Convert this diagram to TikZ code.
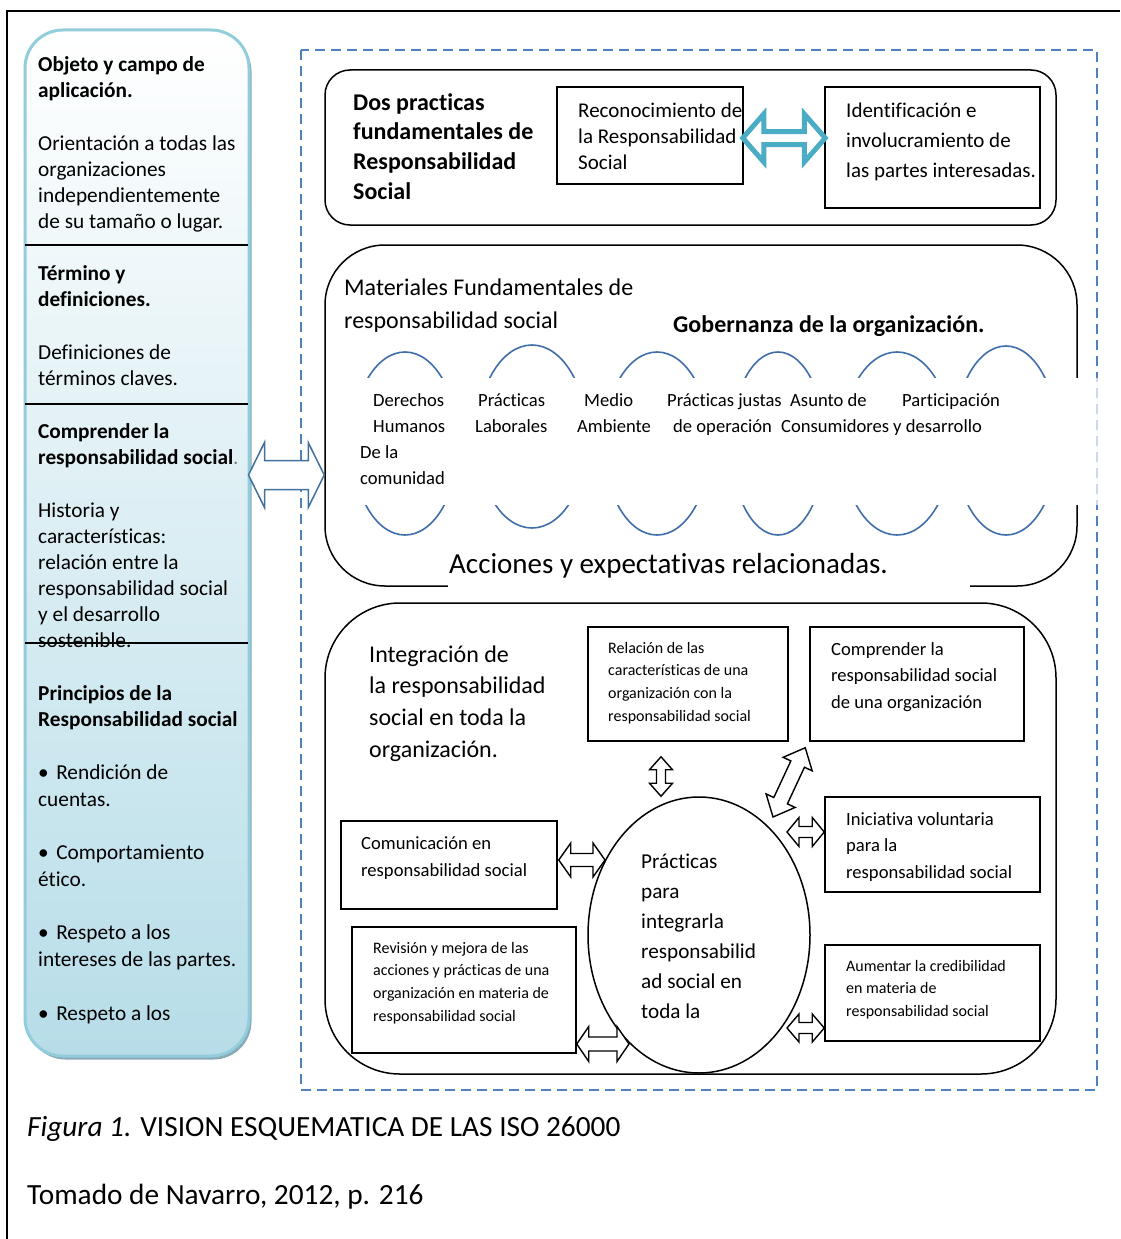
\documentclass[tikz,border=0pt]{standalone}
\usepackage{fontspec}
\setmainfont{Carlito}[Ligatures={NoCommon}]
\usetikzlibrary{calc,shadows,shapes.geometric}

\definecolor{dashblue}{RGB}{79,129,189}
\definecolor{arcblue}{RGB}{64,110,170}
\definecolor{tealarrow}{RGB}{75,172,198}
\definecolor{panelborder}{RGB}{146,205,220}
\definecolor{panelbottom}{RGB}{183,221,232}
\definecolor{arrowblue}{RGB}{65,113,156}
\definecolor{panelshade}{RGB}{125,160,175}

\newcommand\fs[2]{\fontsize{#1}{#2}\selectfont}
% name, x, y of first baseline, font, text
\newcommand\tb[5]{\node[anchor=north west, inner sep=0pt, align=left, font=#4] (#1) at (#2,#3-30) {\rule{0pt}{30pt}#5};}
% opts, from, to, head half width, shaft half width, head length
\newcommand\blockarrow[6]{%
 \draw[#1] (#2) -- ($(#2)!#6!(#3)!#4!90:(#3)$) -- ($(#2)!#6!(#3)!#5!90:(#3)$)
 -- ($(#3)!#6!(#2)!#5!-90:(#2)$) -- ($(#3)!#6!(#2)!#4!-90:(#2)$) -- (#3)
 -- ($(#3)!#6!(#2)!#4!90:(#2)$) -- ($(#3)!#6!(#2)!#5!90:(#2)$)
 -- ($(#2)!#6!(#3)!#5!-90:(#3)$) -- ($(#2)!#6!(#3)!#4!-90:(#3)$) -- cycle;}

\begin{document}
\begin{tikzpicture}[x=1pt,y=-1pt,
  box/.style={draw, line width=1.5pt, inner sep=0pt},
  barrow/.style={draw=black, line width=1.4pt, fill=white, line join=miter},
  arcs/.style={draw=arcblue, line width=1.6pt}]
\useasboundingbox (0,0) rectangle (1120,1239);
\fill[white] (0,0) rectangle (1120,1239);
% outer frame
\draw[line width=1.5pt] (7,1239) -- (7,11) -- (1120,11);
% dashed frame
\draw[dashblue, line width=2.4pt, dash pattern=on 10pt off 6pt] (301,50) rectangle (1097,1090);

% ===== left panel =====
\node[draw=panelborder, line width=3pt, rounded corners=38pt, top color=white, bottom color=panelbottom,
  minimum width=224pt, minimum height=1026pt, inner sep=0pt,
  drop shadow={shadow xshift=2.5pt, shadow yshift=-3.5pt, fill=panelshade, opacity=0.9}] (panel) at (137,543) {};
\draw[line width=1.5pt] (25,245) -- (248,245);
\draw[line width=1.5pt] (25,404) -- (248,404);

\tb{l1}{38}{71}{\fs{21.3}{26}\bfseries}{Objeto y campo de\\aplicación.}
\tb{l2}{38}{150}{\fs{21.3}{26}}{Orientación a todas las\\organizaciones\\independientemente\\de su tamaño o lugar.}
\tb{l3}{38}{280}{\fs{21.3}{26}\bfseries}{Término y\\definiciones.}
\tb{l4}{38}{359}{\fs{21.3}{26}}{Definiciones de\\términos claves.}
\tb{l5}{38}{438}{\fs{21.3}{26}\bfseries}{Comprender la\\responsabilidad social{\mdseries\color{gray}.}}
\tb{l6}{38}{517}{\fs{21.3}{26}}{Historia y\\características:\\relación entre la\\responsabilidad social\\y el desarrollo\\sostenible.}
\draw[line width=1.5pt] (25,643) -- (248,643);
\tb{l7}{38}{700}{\fs{21.3}{26}\bfseries}{Principios de la\\Responsabilidad social}
\tb{l8}{38}{779}{\fs{21.3}{27}}{•\hspace{0.35em}Rendición de\\cuentas.}
\tb{l9}{38}{859}{\fs{21.3}{27}}{•\hspace{0.35em}Comportamiento\\ético.}
\tb{l10}{38}{939}{\fs{21.3}{27}}{•\hspace{0.35em}Respeto a los\\intereses de las partes.}
\tb{l11}{38}{1020}{\fs{21.3}{27}}{•\hspace{0.35em}Respeto a los}

% ===== box 1 =====
\node[box, rounded corners=25pt, minimum width=731pt, minimum height=155pt] (b1) at (690.5,147.5) {};
\tb{t1}{353}{110}{\fs{24}{29.6}\bfseries}{Dos practicas\\fundamentales de\\Responsabilidad\\Social}
\tb{t2}{578}{117}{\fs{21}{26}}{Reconocimiento de\\la Responsabilidad\\Social}
\node[box, minimum width=186pt, minimum height=97pt] (recon) at (650,135.5) {};
\node[box, minimum width=215pt, minimum height=121pt] (ident) at (932.5,147.5) {};
\tb{t3}{846}{117}{\fs{21}{30}}{Identificación e\\involucramiento de\\las partes interesadas.}
\coordinate (ta) at ([xshift=-1pt,yshift=-2.5pt]recon.east);
\coordinate (tb) at ([xshift=1pt,yshift=9.5pt]ident.west);
\blockarrow{draw=tealarrow, line width=5pt, fill=white, line join=miter}{ta}{tb}{24pt}{6.5pt}{21pt}

% ===== box 2 =====
\node[box, rounded corners=60pt, minimum width=752pt, minimum height=341pt] (b2) at (701,415.5) {};
\draw[arcs] (405,443.5) ellipse [x radius=53, y radius=91.5];
\draw[arcs] (532,436.5) ellipse [x radius=55, y radius=91.5];
\draw[arcs] (657,443.5) ellipse [x radius=53, y radius=91.5];
\draw[arcs] (778,443.5) ellipse [x radius=47, y radius=91.5];
\draw[arcs] (897,443.5) ellipse [x radius=55, y radius=91.5];
\draw[arcs] (1006,440.5) ellipse [x radius=52, y radius=94.5];
\fill[white] (340,378) rectangle (1093,505);
\fill[white, opacity=0.7] (1093,378) rectangle (1102,505);
\fill[white] (448,545) rectangle (970,592);

\tb{m1}{344}{295}{\fs{24}{33}}{Materiales Fundamentales de\\responsabilidad social}
\node[anchor=base west, inner sep=0pt, font=\fs{24}{28}\bfseries] (gob) at (673,332) {Gobernanza de la organización.};
\node[anchor=base west, inner sep=0pt, font=\fs{18.6}{22}] (d1) at (373,406) {Derechos};
\node[anchor=base west, inner sep=0pt, font=\fs{18.6}{22}] (d2) at (373,432) {Humanos};
\node[anchor=base west, inner sep=0pt, font=\fs{18.6}{22}] (d3) at (360,458) {De la};
\node[anchor=base west, inner sep=0pt, font=\fs{18.6}{22}] (d4) at (360,484) {comunidad};
\node[anchor=base west, inner sep=0pt, font=\fs{18.6}{22}] (p1) at (478,406) {Prácticas};
\node[anchor=base west, inner sep=0pt, font=\fs{18.6}{22}] (p2) at (475,432) {Laborales};
\node[anchor=base west, inner sep=0pt, font=\fs{18.6}{22}] (ma1) at (584,406) {Medio};
\node[anchor=base west, inner sep=0pt, font=\fs{18.6}{22}] (ma2) at (577,432) {Ambiente};
\node[anchor=base west, inner sep=0pt, font=\fs{18.6}{22}] (pj1) at (667,406) {Prácticas justas};
\node[anchor=base west, inner sep=0pt, font=\fs{18.6}{22}] (pj2) at (673,432) {de operación};
\node[anchor=base west, inner sep=0pt, font=\fs{18.6}{22}] (ac1) at (790,406) {Asunto de};
\node[anchor=base west, inner sep=0pt, font=\fs{18.6}{22}] (ac2) at (781,432) {Consumidores};
\node[anchor=base west, inner sep=0pt, font=\fs{18.6}{22}] (pd1) at (902,406) {Participación};
\node[anchor=base west, inner sep=0pt, font=\fs{18.6}{22}] (pd2) at (893,432) {y desarrollo};
\node[anchor=base west, inner sep=0pt, font=\fs{29}{34}] (acc) at (449,573) {Acciones y expectativas relacionadas.};

% big blue arrow
\coordinate (ba) at ([xshift=-2pt,yshift=68pt]panel.east);
\coordinate (bb) at ([yshift=-59.5pt]b2.west);
\blockarrow{draw=arrowblue, line width=1.5pt, fill=white, line join=miter}{ba}{bb}{32.5pt}{14.5pt}{16pt}

% ===== box 3 =====
\node[box, rounded corners=75pt, minimum width=731pt, minimum height=471pt] (b3) at (690.5,838.5) {};
\tb{i1}{369}{662}{\fs{24}{31.7}}{Integración de\\la responsabilidad\\social en toda la\\organización.}
\node[box, minimum width=200pt, minimum height=114pt] (rel) at (688,684) {};
\tb{r1}{608}{653}{\fs{16}{22.7}}{Relación de las\\características de una\\organización con la\\responsabilidad social}
\node[box, minimum width=214pt, minimum height=114pt] (comp) at (917,684) {};
\tb{c1}{831}{655}{\fs{18.6}{26.5}}{Comprender la\\responsabilidad social\\de una organización}
\node[box, minimum width=215pt, minimum height=95pt] (inic) at (932.5,844.5) {};
\tb{in1}{846}{825}{\fs{18.6}{26.5}}{Iniciativa voluntaria\\para la\\responsabilidad social}
\node[box, minimum width=216pt, minimum height=88pt] (comu) at (449,865) {};
\tb{co1}{361}{849}{\fs{18.6}{27}}{Comunicación en\\responsabilidad social}
\node[box, minimum width=224pt, minimum height=126pt] (rev) at (464,990) {};
\tb{rv1}{373}{953}{\fs{16}{22.7}}{Revisión y mejora de las\\acciones y prácticas de una\\organización en materia de\\responsabilidad social}
\node[box, minimum width=215pt, minimum height=96pt] (aum) at (932.5,993) {};
\tb{au1}{846}{971}{\fs{16}{22.7}}{Aumentar la credibilidad\\en materia de\\responsabilidad social}
\node[draw, ellipse, line width=1.5pt, minimum width=222pt, minimum height=276pt, inner sep=0pt] (prac) at (699,935) {};
\tb{pr1}{641}{868}{\fs{21.2}{30}}{Prácticas\\para\\integrarla\\responsabilid\\ad social en\\toda la}

% small block arrows
\coordinate (va) at ([xshift=-27pt,yshift=-15pt]rel.south);
\coordinate (vb) at ([xshift=-38pt]prac.north);
\blockarrow{barrow}{va}{vb}{11.5pt}{4.5pt}{13pt}
\coordinate (da) at ([xshift=-4pt,yshift=-6pt]comp.south west);
\coordinate (db) at ([xshift=74pt,yshift=118pt]prac.center);
\blockarrow{barrow}{da}{db}{16pt}{7.5pt}{18pt}
\coordinate (ia) at ([xshift=88pt,yshift=103pt]prac.center);
\coordinate (ib) at ([yshift=12.5pt]inic.west);
\blockarrow{barrow}{ia}{ib}{14.5pt}{5.5pt}{12pt}
\coordinate (ca) at ([xshift=1pt,yshift=5pt]comu.east);
\coordinate (cb) at ([xshift=-94pt,yshift=75pt]prac.center);
\blockarrow{barrow}{ca}{cb}{17pt}{6.5pt}{12pt}
\coordinate (ra) at ([yshift=-54pt]rev.east);
\coordinate (rb) at ([xshift=-70pt,yshift=-109pt]prac.center);
\blockarrow{barrow}{ra}{rb}{17.5pt}{7pt}{12pt}
\coordinate (aa) at ([xshift=88pt,yshift=-93pt]prac.center);
\coordinate (ab) at ([yshift=-35pt]aum.west);
\blockarrow{barrow}{aa}{ab}{14pt}{5.5pt}{12pt}

% ===== caption =====
\node[anchor=base west, inner sep=0pt, font=\fs{29.3}{35}] (cap) at (27,1136) {\textit{Figura 1.} VISION ESQUEMATICA DE LAS ISO 26000};
\node[anchor=base west, inner sep=0pt, font=\fs{29.3}{35}] (src) at (27,1204) {Tomado de Navarro, 2012, p. 216};
\end{tikzpicture}
\end{document}
